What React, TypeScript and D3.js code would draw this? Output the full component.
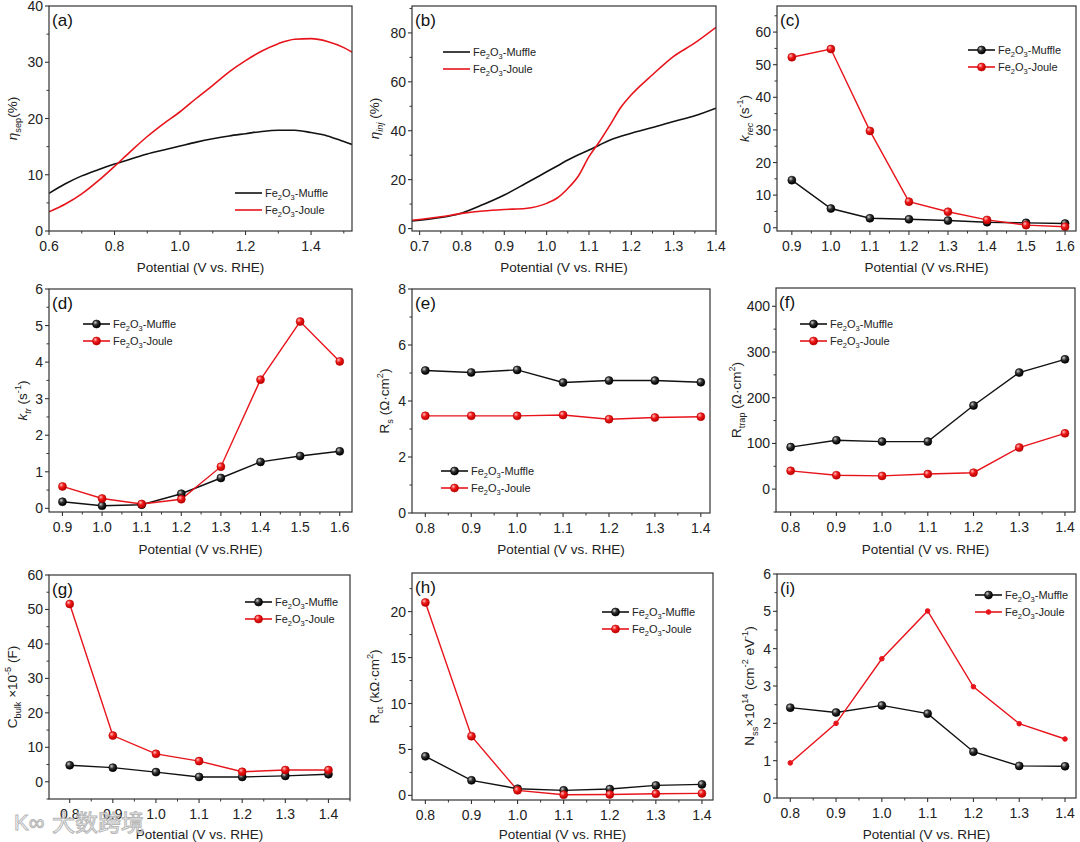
import * as d3 from "d3";

// ---- data ----
const aPotential = [0.6, 0.65, 0.7, 0.75, 0.8, 0.85, 0.9, 0.95, 1.0, 1.05, 1.1, 1.15, 1.2, 1.25, 1.3, 1.35, 1.4, 1.45, 1.5, 1.525];
const aMuffle = [6.7, 8.4, 9.8, 10.9, 11.9, 12.8, 13.7, 14.4, 15.1, 15.8, 16.4, 16.9, 17.3, 17.7, 17.9, 17.9, 17.5, 16.9, 15.9, 15.4];
const aJoule = [3.4, 4.8, 6.6, 8.9, 11.5, 14.2, 16.8, 19.1, 21.2, 23.6, 25.9, 28.3, 30.3, 32.0, 33.3, 34.1, 34.2, 33.7, 32.6, 31.8];

const bPotential = [0.682, 0.7, 0.75, 0.8, 0.85, 0.9, 0.95, 1.0, 1.025, 1.05, 1.075, 1.1, 1.125, 1.15, 1.175, 1.2, 1.25, 1.3, 1.35, 1.4];
const bMuffle = [3.1, 3.4, 4.5, 6.4, 9.8, 13.7, 18.4, 23.2, 25.6, 28.0, 30.2, 32.1, 34.2, 36.2, 37.7, 39.0, 41.3, 43.8, 46.1, 49.2];
const bJoule = [3.4, 3.7, 4.8, 6.2, 7.2, 7.8, 8.2, 10.3, 12.5, 16.4, 21.5, 29.4, 35.6, 42.4, 49.5, 54.7, 62.9, 70.4, 75.9, 82.3];

const potHigh = [0.9, 1.0, 1.1, 1.2, 1.3, 1.4, 1.5, 1.6];
const potLow = [0.8, 0.9, 1.0, 1.1, 1.2, 1.3, 1.4];

const cMuffle = [14.6, 5.9, 2.9, 2.6, 2.2, 1.7, 1.5, 1.3];
const cJoule = [52.3, 54.8, 29.7, 8.0, 4.9, 2.4, 0.8, 0.3];

const dMuffle = [0.18, 0.07, 0.1, 0.4, 0.83, 1.27, 1.43, 1.56];
const dJoule = [0.6, 0.27, 0.12, 0.25, 1.14, 3.52, 5.11, 4.02];

const eMuffle = [5.09, 5.02, 5.11, 4.66, 4.73, 4.73, 4.67];
const eJoule = [3.47, 3.47, 3.47, 3.5, 3.35, 3.41, 3.44];

const fMuffle = [92, 107, 104, 104, 183, 255, 284];
const fJoule = [40, 30.5, 29, 33, 36, 91, 122];

const gMuffle = [4.8, 4.1, 2.8, 1.4, 1.4, 1.7, 2.2];
const gJoule = [51.6, 13.4, 8.1, 6.0, 2.9, 3.4, 3.4];

const hMuffle = [4.25, 1.64, 0.73, 0.55, 0.69, 1.09, 1.2];
const hJoule = [21.0, 6.44, 0.55, 0.07, 0.1, 0.18, 0.22];

const iMuffle = [2.42, 2.29, 2.48, 2.26, 1.24, 0.86, 0.85];
const iJoule = [0.94, 2.0, 3.73, 5.01, 2.98, 1.99, 1.58];

const seriesNames = ["Muffle", "Joule"];

const BLACK = "#111";
const RED = "#e8141b";
const FONT = "'Liberation Sans', Arial, sans-serif";

type Seg = { t: string; sub?: boolean; sup?: boolean; it?: boolean };

const Rich = ({ segs, size }: { segs: Seg[]; size: number }) => {
  let cur = 0;
  return (
    <>
      {segs.map((s, i) => {
        const want = s.sub ? size * 0.3 : s.sup ? -size * 0.42 : 0;
        const dy = want - cur;
        cur = want;
        return (
          <tspan
            key={i}
            dy={dy}
            fontSize={s.sub || s.sup ? size * 0.68 : size}
            fontStyle={s.it ? "italic" : "normal"}
          >
            {s.t}
          </tspan>
        );
      })}
    </>
  );
};

const feLabel = (name: string): Seg[] => [
  { t: "Fe" },
  { t: "2", sub: true },
  { t: "O" },
  { t: "3", sub: true },
  { t: "-" + name },
];

const Marker = ({ cx, cy, color, small }) =>
  small ? (
    <circle cx={cx} cy={cy} r={2.3} fill={color} stroke={color} />
  ) : (
    <circle
      cx={cx}
      cy={cy}
      r={4}
      fill={color === RED ? "url(#gRed)" : "url(#gBlack)"}
      stroke={color === RED ? "#b00" : "#000"}
      strokeWidth={0.6}
    />
  );

const minorTicks = (lo, hi, step, majors) =>
  d3
    .range(Math.ceil(lo / step - 1e-6) * step, hi + 1e-9, step)
    .filter((v) => !majors.some((m) => Math.abs(m - v) < 1e-6));

const Panel = ({ cfg }) => {
  const { box, xDomain, yDomain, xTicks, yTicks, xMinorStep, yMinorStep } = cfg;
  const x = d3.scaleLinear().domain(xDomain).range([box.l, box.r]);
  const y = d3.scaleLinear().domain(yDomain).range([box.b, box.t]);
  const line = d3
    .line<[number, number]>()
    .x((d) => x(d[0]))
    .y((d) => y(d[1]))
    .curve(cfg.smooth ? d3.curveMonotoneX : d3.curveLinear);
  const xMinor = minorTicks(xDomain[0], xDomain[1], xMinorStep, xTicks);
  const yMinor = minorTicks(yDomain[0], yDomain[1], yMinorStep, yTicks);
  const fx = d3.format(".1f");
  const cy = (box.t + box.b) / 2;
  const clipId = "clip-" + cfg.tag;
  return (
    <g>
      <clipPath id={clipId}>
        <rect x={box.l} y={box.t} width={box.r - box.l} height={box.b - box.t} />
      </clipPath>
      <g clipPath={`url(#${clipId})`}>
        {cfg.series.map((s, si) => (
          <path
            key={si}
            d={line(s.x.map((v, k) => [v, s.y[k]]))}
            fill="none"
            stroke={s.color}
            strokeWidth={cfg.smooth ? 1.6 : 1.4}
          />
        ))}
      </g>
      {!cfg.smooth &&
        cfg.series.map((s, si) =>
          s.x.map((v, k) => (
            <Marker key={si + "-" + k} cx={x(v)} cy={y(s.y[k])} color={s.color} small={s.small} />
          ))
        )}
      <rect
        x={box.l}
        y={box.t}
        width={box.r - box.l}
        height={box.b - box.t}
        fill="none"
        stroke="#333"
        strokeWidth={1.2}
      />
      {xTicks.map((t) => (
        <g key={"xt" + t}>
          <line x1={x(t)} x2={x(t)} y1={box.b} y2={box.b + 4} stroke="#333" strokeWidth={1.1} />
          <text x={x(t)} y={box.b + 20} textAnchor="middle" fontSize={14} fill="#222">
            {fx(t)}
          </text>
        </g>
      ))}
      {xMinor.map((t) => (
        <line key={"xm" + t} x1={x(t)} x2={x(t)} y1={box.b} y2={box.b + 2.5} stroke="#333" strokeWidth={1} />
      ))}
      {yTicks.map((t) => (
        <g key={"yt" + t}>
          <line x1={box.l - 4} x2={box.l} y1={y(t)} y2={y(t)} stroke="#333" strokeWidth={1.1} />
          <text x={box.l - 6} y={y(t) + 5} textAnchor="end" fontSize={14} fill="#222">
            {t}
          </text>
        </g>
      ))}
      {yMinor.map((t) => (
        <line key={"ym" + t} x1={box.l - 2.5} x2={box.l} y1={y(t)} y2={y(t)} stroke="#333" strokeWidth={1} />
      ))}
      <text x={box.l + 3} y={box.t + 20} fontSize={17} fill="#111">
        ({cfg.tag})
      </text>
      <text
        x={(box.l + box.r) / 2}
        y={cfg.xLabelY}
        textAnchor="middle"
        fontSize={13.5}
        fill="#222"
      >
        {cfg.xLabel}
      </text>
      <text
        transform={`translate(${box.l - cfg.yLabelOff},${cy}) rotate(-90)`}
        textAnchor="middle"
        fontSize={13.5}
        fill="#222"
      >
        <Rich segs={cfg.yLabel} size={13.5} />
      </text>
      {cfg.series.map((s, si) => {
        const lx = cfg.legend[0];
        const ly = cfg.legend[1] + si * 17;
        return (
          <g key={"lg" + si}>
            <line x1={lx} x2={lx + 27} y1={ly} y2={ly} stroke={s.color} strokeWidth={1.6} />
            {!cfg.smooth && <Marker cx={lx + 13.5} cy={ly} color={s.color} small={s.small} />}
            <text x={lx + 30} y={ly + 4} fontSize={11} fill="#222">
              <Rich segs={feLabel(seriesNames[si])} size={11} />
            </text>
          </g>
        );
      })}
    </g>
  );
};

const pairs = (xs, m, j, smallJoule = false) => [
  { x: xs, y: m, color: BLACK },
  { x: xs, y: j, color: RED, small: smallJoule },
];

const panels = [
  {
    tag: "a",
    smooth: true,
    box: { l: 49, r: 352, t: 6, b: 231 },
    xDomain: [0.6, 1.525],
    yDomain: [0, 40],
    xTicks: [0.6, 0.8, 1.0, 1.2, 1.4],
    xMinorStep: 0.1,
    yTicks: [0, 10, 20, 30, 40],
    yMinorStep: 5,
    series: pairs(aPotential, aMuffle, aJoule),
    legend: [235, 193],
    xLabel: "Potential (V vs. RHE)",
    xLabelY: 272,
    yLabelOff: 32,
    yLabel: [{ t: "η", it: true }, { t: "sep", sub: true }, { t: "(%)" }],
  },
  {
    tag: "b",
    smooth: true,
    box: { l: 412, r: 716, t: 6, b: 231 },
    xDomain: [0.682, 1.4],
    yDomain: [-1, 91],
    xTicks: [0.7, 0.8, 0.9, 1.0, 1.1, 1.2, 1.3, 1.4],
    xMinorStep: 0.05,
    yTicks: [0, 20, 40, 60, 80],
    yMinorStep: 10,
    series: pairs(bPotential, bMuffle, bJoule),
    legend: [443, 52],
    xLabel: "Potential (V vs. RHE)",
    xLabelY: 272,
    yLabelOff: 33,
    yLabel: [{ t: "η", it: true }, { t: "inj", sub: true, it: true }, { t: " (%)" }],
  },
  {
    tag: "c",
    box: { l: 777, r: 1076, t: 6, b: 231 },
    xDomain: [0.862, 1.628],
    yDomain: [-1, 68],
    xTicks: potHigh,
    xMinorStep: 0.05,
    yTicks: [0, 10, 20, 30, 40, 50, 60],
    yMinorStep: 5,
    series: pairs(potHigh, cMuffle, cJoule),
    legend: [968, 50],
    xLabel: "Potential (V vs.RHE)",
    xLabelY: 272,
    yLabelOff: 28,
    yLabel: [
      { t: "k", it: true },
      { t: "rec", sub: true, it: true },
      { t: " (s" },
      { t: "-1", sup: true },
      { t: ")" },
    ],
  },
  {
    tag: "d",
    box: { l: 49, r: 352, t: 289, b: 512 },
    xDomain: [0.866, 1.631],
    yDomain: [-0.1, 6],
    xTicks: potHigh,
    xMinorStep: 0.05,
    yTicks: [0, 1, 2, 3, 4, 5, 6],
    yMinorStep: 0.5,
    series: pairs(potHigh, dMuffle, dJoule),
    legend: [83, 324],
    xLabel: "Potential (V vs.RHE)",
    xLabelY: 554,
    yLabelOff: 22,
    yLabel: [
      { t: "k", it: true },
      { t: "tr", sub: true, it: true },
      { t: " (s" },
      { t: "-1", sup: true },
      { t: ")" },
    ],
  },
  {
    tag: "e",
    box: { l: 412, r: 710, t: 289, b: 513 },
    xDomain: [0.771, 1.42],
    yDomain: [0, 8],
    xTicks: potLow,
    xMinorStep: 0.05,
    yTicks: [0, 2, 4, 6, 8],
    yMinorStep: 1,
    series: pairs(potLow, eMuffle, eJoule),
    legend: [441, 471],
    xLabel: "Potential (V vs. RHE)",
    xLabelY: 554,
    yLabelOff: 23,
    yLabel: [{ t: "R" }, { t: "s", sub: true }, { t: " (Ω·cm" }, { t: "2", sup: true }, { t: ")" }],
  },
  {
    tag: "f",
    box: { l: 776, r: 1075, t: 288, b: 512 },
    xDomain: [0.768, 1.422],
    yDomain: [-50, 440],
    xTicks: potLow,
    xMinorStep: 0.05,
    yTicks: [0, 100, 200, 300, 400],
    yMinorStep: 50,
    series: pairs(potLow, fMuffle, fJoule),
    legend: [800, 324],
    xLabel: "Potential (V vs. RHE)",
    xLabelY: 554,
    yLabelOff: 35,
    yLabel: [{ t: "R" }, { t: "trap", sub: true }, { t: " (Ω·cm" }, { t: "2", sup: true }, { t: ")" }],
  },
  {
    tag: "g",
    box: { l: 49, r: 350, t: 575, b: 799 },
    xDomain: [0.752, 1.45],
    yDomain: [-5, 60],
    xTicks: potLow,
    xMinorStep: 0.05,
    yTicks: [0, 10, 20, 30, 40, 50, 60],
    yMinorStep: 5,
    series: pairs(potLow, gMuffle, gJoule),
    legend: [245, 602],
    xLabel: "Potential (V vs. RHE)",
    xLabelY: 839,
    yLabelOff: 32,
    yLabel: [{ t: "C" }, { t: "bulk", sub: true }, { t: " ×10" }, { t: "-5", sup: true }, { t: " (F)" }],
  },
  {
    tag: "h",
    box: { l: 412, r: 713, t: 573, b: 800 },
    xDomain: [0.771, 1.424],
    yDomain: [-0.5, 24.2],
    xTicks: potLow,
    xMinorStep: 0.05,
    yTicks: [0, 5, 10, 15, 20],
    yMinorStep: 2.5,
    series: pairs(potLow, hMuffle, hJoule),
    legend: [602, 612],
    xLabel: "Potential (V vs. RHE)",
    xLabelY: 839,
    yLabelOff: 33,
    yLabel: [{ t: "R" }, { t: "ct", sub: true }, { t: " (kΩ·cm" }, { t: "2", sup: true }, { t: ")" }],
  },
  {
    tag: "i",
    box: { l: 777, r: 1076, t: 574, b: 798 },
    xDomain: [0.771, 1.424],
    yDomain: [0, 6],
    xTicks: potLow,
    xMinorStep: 0.05,
    yTicks: [0, 1, 2, 3, 4, 5, 6],
    yMinorStep: 0.5,
    series: pairs(potLow, iMuffle, iJoule, true),
    legend: [975, 595],
    xLabel: "Potential (V vs. RHE)",
    xLabelY: 839,
    yLabelOff: 23,
    yLabel: [
      { t: "N" },
      { t: "ss", sub: true },
      { t: "×10" },
      { t: "14", sup: true },
      { t: " (cm" },
      { t: "-2", sup: true },
      { t: " eV" },
      { t: "-1", sup: true },
      { t: ")" },
    ],
  },
];

export default function App() {
  return (
    <svg
      width={1080}
      height={842}
      style={{ position: "absolute", left: 0, top: 0, background: "#fff", fontFamily: FONT }}
    >
      <defs>
        <radialGradient id="gBlack" cx="35%" cy="32%" r="65%">
          <stop offset="0%" stopColor="#d0d0d0" />
          <stop offset="45%" stopColor="#333" />
          <stop offset="100%" stopColor="#000" />
        </radialGradient>
        <radialGradient id="gRed" cx="35%" cy="32%" r="65%">
          <stop offset="0%" stopColor="#ffc0c0" />
          <stop offset="45%" stopColor="#f21c1c" />
          <stop offset="100%" stopColor="#c00000" />
        </radialGradient>
      </defs>
      <rect width={1080} height={842} fill="#fff" />
      {panels.map((p) => (
        <Panel key={p.tag} cfg={p} />
      ))}
      <g opacity={0.85}>
        <text
          x={14}
          y={830}
          fontSize={22}
          fontFamily={FONT}
          fill="#fff"
          stroke="#aaa"
          strokeWidth={1}
        >
          K∞
        </text>
        <text
          x={52}
          y={831}
          fontSize={23}
          fontFamily="'Noto Sans CJK SC', sans-serif"
          fill="#fff"
          stroke="#aaa"
          strokeWidth={1}
        >
          大数跨境
        </text>
      </g>
    </svg>
  );
}
